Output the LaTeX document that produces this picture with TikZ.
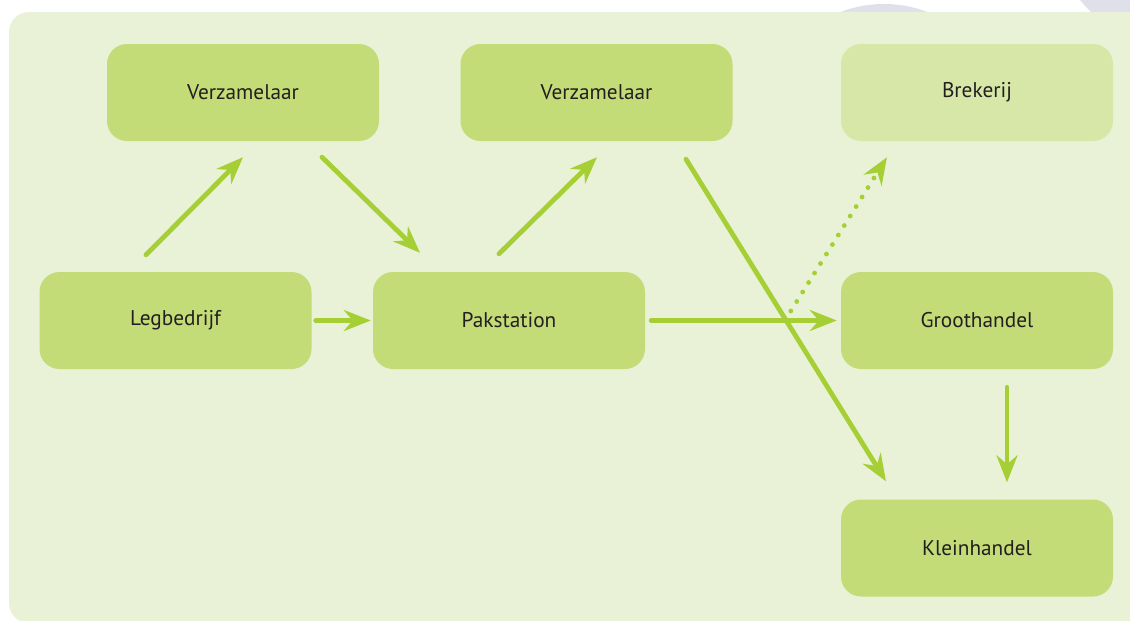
\documentclass[tikz,border=0pt]{standalone}
\usepackage{fontspec}
\setmainfont{PT Sans}
\usetikzlibrary{arrows.meta,calc}
\definecolor{panelc}{HTML}{E9F2D6}
\definecolor{boxc}{HTML}{C3DC78}
\definecolor{boxl}{HTML}{D6E7A7}
\definecolor{arrc}{HTML}{A5CF35}
\definecolor{lav}{HTML}{DFE0EA}
\definecolor{txt}{HTML}{231F20}
\tikzset{
  stage/.style={fill=boxc, rounded corners=20pt, minimum width=272pt, minimum height=97pt,
    inner sep=0pt, text=txt, font=\fontsize{21.3}{25}\selectfont},
  arr/.style={draw=arrc, line width=4.8pt, line cap=round,
    -{Stealth[length=27pt,width=21pt,inset=9pt]}},
  dotarr/.style={arr, dash pattern=on 0pt off 11.2pt}
}
\begin{document}
\begin{tikzpicture}[x=1pt,y=-1pt]
\clip (0,0) rectangle (1130,621);
\fill[white] (0,0) rectangle (1130,621);
\fill[lav] (884,125) circle (121);
\fill[lav] (1180,-80) circle (128);
\fill[panelc, rounded corners=20pt] (9,12) rectangle (1160,623);

\node[stage] (v1) at (243,92.5) {\raisebox{-1.5pt}{Verzamelaar}};
\node[stage] (v2) at (596.5,92.5) {\raisebox{-1.5pt}{Verzamelaar}};
\node[stage, fill=boxl] (br) at (977,92.5) {\raisebox{-1.5pt}{Brekerij}};
\node[stage] (leg) at (175.5,320.5) {\raisebox{-1.5pt}{Legbedrijf}};
\node[stage] (pak) at (509,320.5) {\raisebox{-1.5pt}{Pakstation}};
\node[stage] (gr) at (977,320.5) {\raisebox{-1.5pt}{Groothandel}};
\node[stage] (kl) at (977,548) {\raisebox{-1.5pt}{Kleinhandel}};

\draw[arr] ($(leg.north)+(-29.5,-17)$) -- ($(v1.south)+(0,16)$);
\draw[arr] ($(v1.south)+(79,16)$) -- ($(pak.north)+(-89,-19)$);
\draw[arr] ($(leg.east)+(4,0)$) -- ($(pak.west)+(-2,0)$);
\draw[arr] ($(pak.north)+(-10,-18)$) -- ($(v2.south)+(0.5,16)$);
\draw[arr] ($(v2.south)+(89.5,18)$) -- ($(kl.north)+(-91,-18)$);
\draw[dotarr] ($(gr.west)+(-50,-9.5)$) -- ($(br.south)+(-90,16)$);
\draw[arr] ($(pak.east)+(6,0)$) -- ($(gr.west)+(-4,0)$);
\draw[arr] ($(gr.south)+(30,18)$) -- ($(kl.north)+(30,-17)$);
\end{tikzpicture}
\end{document}
